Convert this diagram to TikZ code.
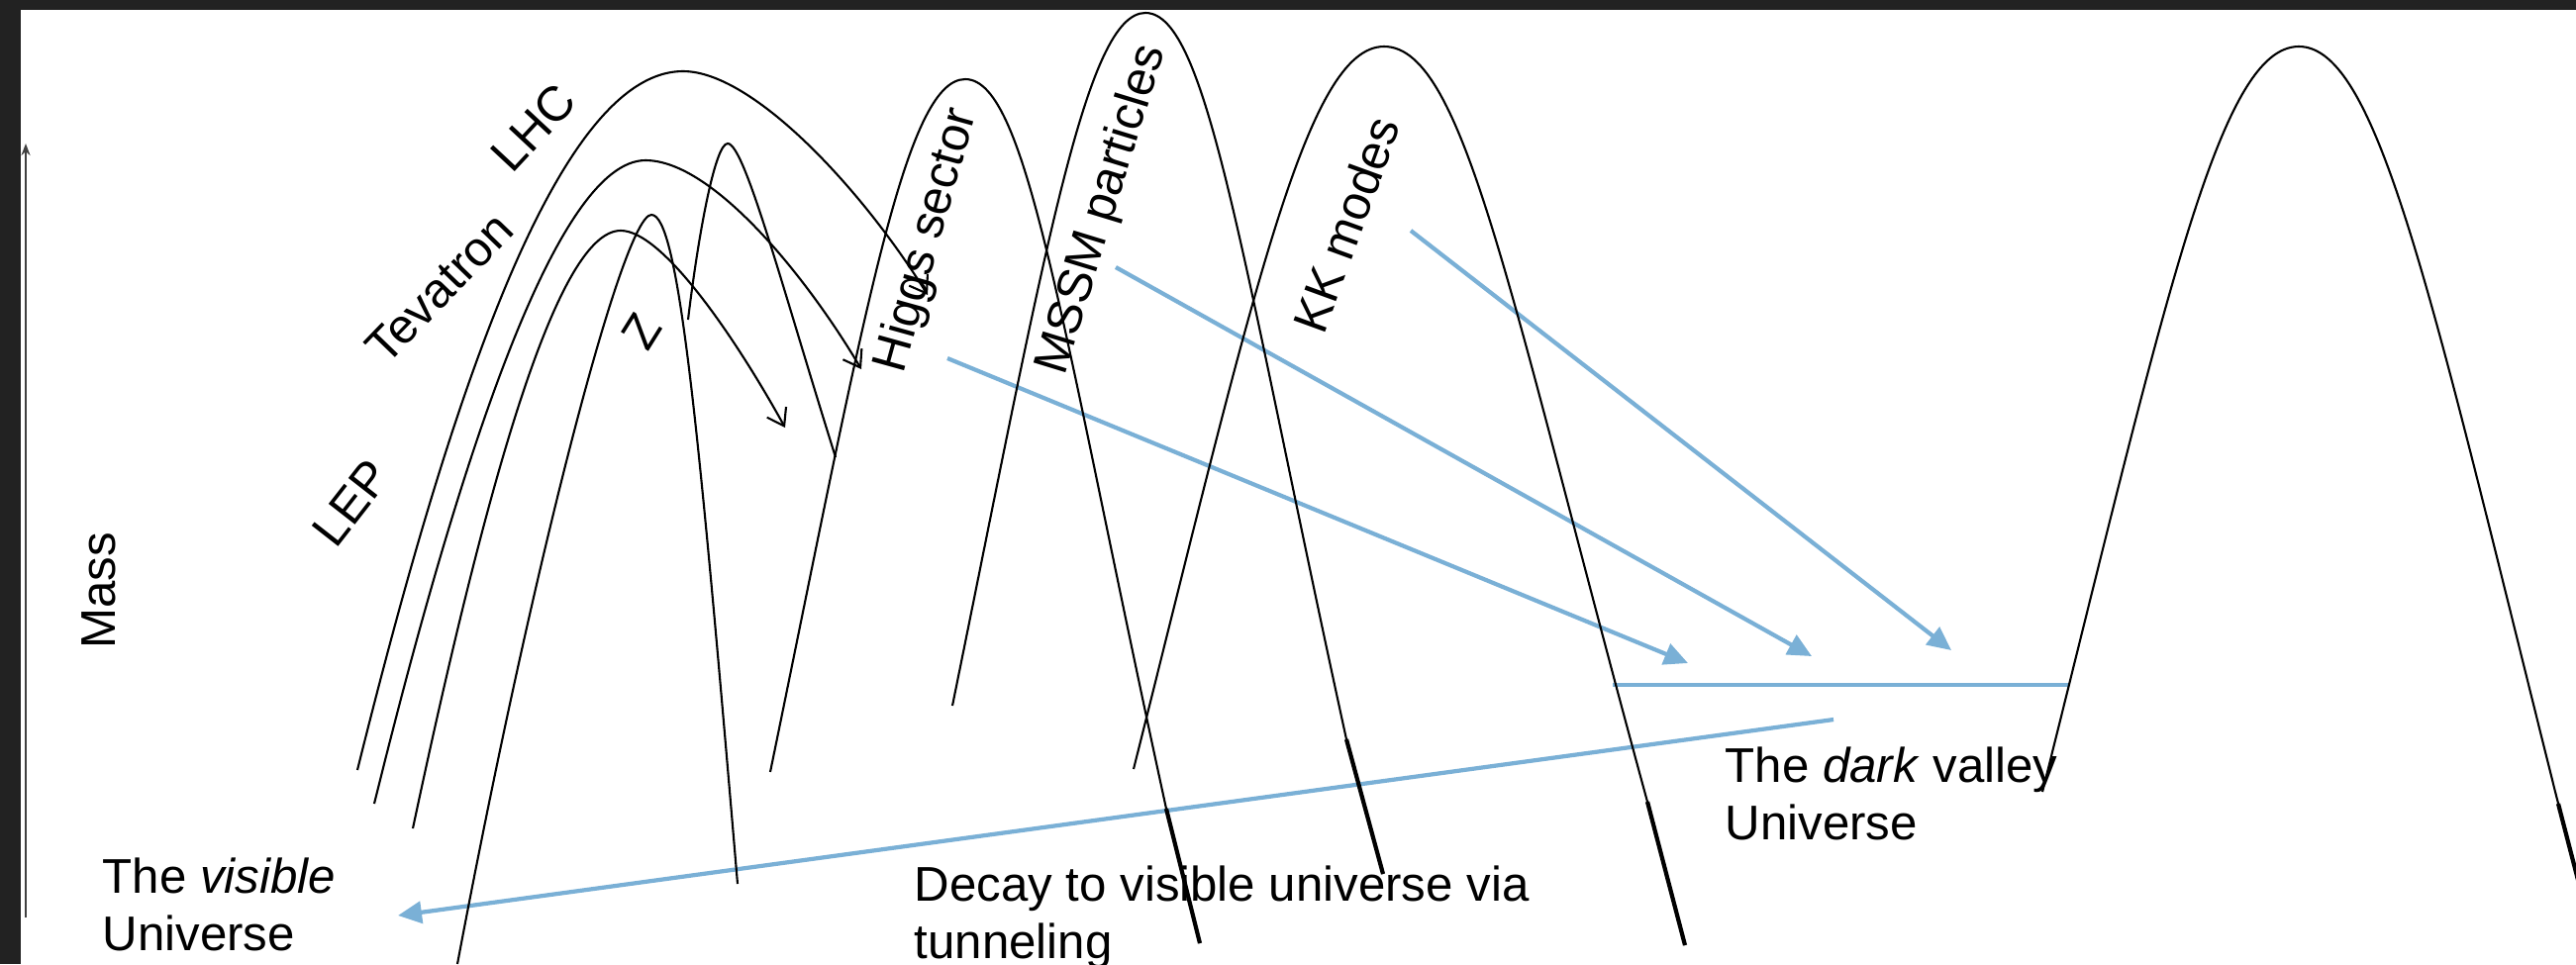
\documentclass[tikz,border=0pt]{standalone}
\usepackage{fontspec}
\setmainfont{Liberation Sans}
\usetikzlibrary{arrows.meta}
\definecolor{bluel}{RGB}{122,176,214}
\definecolor{framec}{RGB}{34,34,34}
\begin{document}
\begin{tikzpicture}[x=0.1mm,y=-0.1mm,
  curve/.style={line width=0.6pt, draw=black},
  thickseg/.style={line width=1.2pt, draw=black},
  bluearrow/.style={line width=1.2pt, draw=bluel, -{Triangle[length=2.4mm,width=2.2mm]}},
  blueline/.style={line width=1.2pt, draw=bluel},
  blackarrow/.style={curve, -{Straight Barb[length=1.6mm,width=2.2mm]}},
  lbl/.style={font=\fontsize{14}{16.5}\selectfont, inner sep=0pt},
]
\useasboundingbox (0,0) rectangle (2602,974);
\fill[framec] (0,0) rectangle (2602,974);
\fill[white] (21,10) rectangle (2602,974);

\begin{scope}
\clip (21,10) rectangle (2602,974);

% mass axis
\coordinate (axb) at (26,927);
\coordinate (axt) at (26,145);
\draw[line width=0.6pt, draw=black!75, -{Stealth[length=1.2mm,width=0.9mm]}] (axb) -- (axt);
\node[lbl, rotate=90] (mass) at (100,597) {Mass};

% labels
\node[lbl, anchor=base west] (vis1) at (103,902) {The \textit{visible}};
\node[lbl, anchor=base west] (vis2) at (103,960) {Universe};
\node[lbl, anchor=base west] (dec1) at (923,910) {Decay to visible universe via};
\node[lbl, anchor=base west] (dec2) at (923,968) {tunneling};
\node[lbl, anchor=base west] (dark1) at (1742,790) {The \textit{dark} valley};
\node[lbl, anchor=base west] (dark2) at (1742,848) {Universe};

\node[lbl, rotate=47] (lhc) at (539,129) {LHC};
\node[lbl, rotate=46] (tev) at (444,291) {Tevatron};
\node[lbl, rotate=52] (lep) at (355,508) {LEP};
\node[lbl, rotate=58] (z) at (648,335) {Z};
\node[lbl, rotate=74.5] (higgs) at (937,243) {Higgs sector};
\node[lbl, rotate=73] (mssm) at (1114,212) {MSSM particles};
\node[lbl, rotate=70] (kk) at (1360,227) {KK modes};

% blue connectors
\coordinate (hs) at (957,362);
\coordinate (he) at (1705,670);
\coordinate (ms) at (1127,270);
\coordinate (me) at (1830,663);
\coordinate (ks) at (1425,233);
\coordinate (ke) at (1971,657);
\coordinate (vs) at (1852,727);
\coordinate (ve) at (402,925);
\coordinate (fl) at (1629,692);
\coordinate (fr) at (2090,692);
\draw[bluearrow] (hs) -- (he);
\draw[bluearrow] (ms) -- (me);
\draw[bluearrow] (ks) -- (ke);
\draw[bluearrow] (vs) -- (ve);
\draw[blueline] (fl) -- (fr);

% LHC curve
\draw[blackarrow] (361,778) .. controls (450,420) and (560,72) .. (690,72) .. controls (760,72) and (870,190) .. (937,298);
% Tevatron curve
\draw[blackarrow] (378,812) .. controls (460,480) and (560,162) .. (652,162) .. controls (720,162) and (815,280) .. (870,373);
% LEP curve
\draw[blackarrow] (417,837) .. controls (495,470) and (565,233) .. (627,233) .. controls (670,233) and (745,345) .. (793,432);
% Z curve
\draw[curve] (462,974) .. controls (540,560) and (630,217) .. (658,217) .. controls (685,217) and (705,420) .. (745,893);
% spike
\draw[curve] (695,323) .. controls (705,240) and (722,145) .. (735,145) .. controls (752,145) and (790,290) .. (844,462);
% Higgs
\draw[curve] (778,780) .. controls (873,318) and (914,80) .. (975,80) .. controls (1038,80) and (1072,331) .. (1178,817) -- (1212,953);
\draw[thickseg] (1178,817) -- (1212,953);
% MSSM
\draw[curve] (962,713) .. controls (1056,251) and (1097,13) .. (1157,13) .. controls (1220,13) and (1254,263) .. (1360,747) -- (1397,883);
\draw[thickseg] (1360,747) -- (1397,883);
% KK
\draw[curve] (1145,777) .. controls (1266,295) and (1320,47) .. (1398,47) .. controls (1480,47) and (1526,306) .. (1664,810) -- (1702,955);
\draw[thickseg] (1664,810) -- (1702,955);
% dark valley hill
\draw[curve] (2063,800) .. controls (2188,300) and (2242,47) .. (2322,47) .. controls (2402,47) and (2456,300) .. (2581,800) -- (2626,974);
\draw[thickseg] (2584,812) -- (2626,974);
\end{scope}
\end{tikzpicture}
\end{document}
